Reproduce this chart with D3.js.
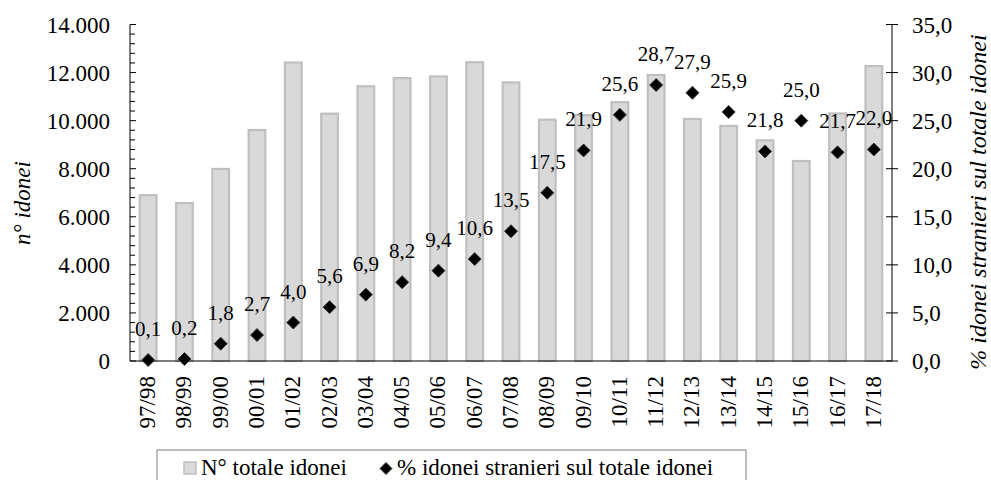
<!DOCTYPE html>
<html>
<head>
<meta charset="utf-8">
<script src="https://cdn.jsdelivr.net/npm/d3@7"></script>
</head>
<body style="margin:0; font-family: 'Liberation Serif', serif">
<svg id="s" width="991" height="480" font-family="Liberation Serif"></svg>
<script>
// Academic years
const categories = ["97/98","98/99","99/00","00/01","01/02","02/03","03/04","04/05","05/06","06/07",
  "07/08","08/09","09/10","10/11","11/12","12/13","13/14","14/15","15/16","16/17","17/18"];
// Total number of qualified candidates
const totaleIdonei = [6900, 6570, 7990, 9610, 12420, 10290, 11430, 11770, 11840, 12430,
  11590, 10040, 10230, 10770, 11900, 10070, 9780, 9180, 8320, 10300, 12270];
// Share of foreign candidates among the qualified (%)
const percStranieri = [0.1, 0.2, 1.8, 2.7, 4.0, 5.6, 6.9, 8.2, 9.4, 10.6,
  13.5, 17.5, 21.9, 25.6, 28.7, 27.9, 25.9, 21.8, 25.0, 21.7, 22.0];
const leftTicks = [0, 2000, 4000, 6000, 8000, 10000, 12000, 14000];
const rightTicks = [0, 5, 10, 15, 20, 25, 30, 35];

const it = d3.formatLocale({decimal: ",", thousands: ".", grouping: [3], currency: ["€", ""]});
const fmtInt = it.format(",d");
const fmtPct = it.format(".1f");

const svg = d3.select("#s");
const plot = {left: 130, right: 892, top: 24.5, bottom: 361};

const x = d3.scaleBand().domain(categories).range([plot.left, plot.right]).padding(0);
const yL = d3.scaleLinear().domain([0, 14000]).range([plot.bottom, plot.top]);
const yR = d3.scaleLinear().domain([0, 35]).range([plot.bottom, plot.top]);
const barW = x.bandwidth() * 0.46;
const cx = c => x(c) + x.bandwidth() / 2;

// Adds a serif text element
function label(g) {
  return g.append("text").style("font-family", "Liberation Serif");
}

// Bars
svg.append("g").selectAll("rect").data(totaleIdonei).join("rect")
  .attr("x", (d, i) => cx(categories[i]) - barW / 2)
  .attr("y", d => yL(d))
  .attr("width", barW)
  .attr("height", d => yL(0) - yL(d))
  .attr("fill", "#d9d9d9")
  .attr("stroke", "#bfbfbf")
  .attr("stroke-width", 2.2);

// Left axis with minor ticks pointing into the plot
const gL = svg.append("g").attr("transform", `translate(${plot.left},0)`);
gL.append("line").attr("y1", yL(14000)).attr("y2", yL(0)).attr("stroke", "#000");
gL.selectAll("line.minor").data(d3.range(0, 14001, 400)).join("line")
  .attr("class", "minor")
  .attr("x1", 0).attr("x2", d => d % 2000 === 0 ? 6 : 5)
  .attr("y1", d => yL(d)).attr("y2", d => yL(d))
  .attr("stroke", "#000");
leftTicks.forEach(d => {
  label(gL).attr("x", -20).attr("y", yL(d)).attr("dy", "0.35em")
    .attr("text-anchor", "end").attr("font-size", 23)
    .text(fmtInt(d));
});

// Right axis with crossing ticks
const gR = svg.append("g").attr("transform", `translate(${plot.right},0)`);
gR.append("line").attr("y1", yR(35)).attr("y2", yR(0)).attr("stroke", "#000");
gR.selectAll("line.tick").data(rightTicks).join("line")
  .attr("class", "tick")
  .attr("x1", -6).attr("x2", 6)
  .attr("y1", d => yR(d)).attr("y2", d => yR(d))
  .attr("stroke", "#000");
rightTicks.forEach(d => {
  label(gR).attr("x", 20).attr("y", yR(d)).attr("dy", "0.35em")
    .attr("text-anchor", "start").attr("font-size", 23)
    .text(fmtPct(d));
});

// Category axis
svg.append("line")
  .attr("x1", plot.left).attr("x2", plot.right)
  .attr("y1", plot.bottom).attr("y2", plot.bottom)
  .attr("stroke", "#000");
const gX = svg.append("g");
categories.forEach(c => {
  label(gX).attr("transform", `translate(${cx(c) - 1},${plot.bottom + 15}) rotate(-90)`)
    .attr("dy", "0.35em")
    .attr("text-anchor", "end").attr("font-size", 23)
    .text(c);
});

// Diamond markers for the percentage series
const diamond = r => `M0,${-r}L${r},0L0,${r}L${-r},0Z`;
svg.append("g").selectAll("path").data(percStranieri).join("path")
  .attr("transform", (d, i) => `translate(${cx(categories[i])},${yR(d)})`)
  .attr("d", diamond(6.5))
  .attr("fill", "#000")
  .attr("stroke", "#3a3a3a")
  .attr("stroke-width", 1);

// Value labels above the markers
const gV = svg.append("g");
percStranieri.forEach((d, i) => {
  label(gV).attr("x", cx(categories[i])).attr("y", yR(d) - 24)
    .attr("text-anchor", "middle").attr("font-size", 21)
    .text(fmtPct(d));
});

// Axis titles
label(svg).attr("transform", "translate(22,203) rotate(-90)")
  .attr("dy", "0.35em")
  .attr("text-anchor", "middle").attr("font-size", 23).attr("font-style", "italic")
  .text("n° idonei");
label(svg).attr("transform", "translate(978,202) rotate(-90)")
  .attr("dy", "0.35em")
  .attr("text-anchor", "middle").attr("font-size", 24).attr("font-style", "italic")
  .text("% idonei stranieri sul totale idonei");

// Legend
const lg = svg.append("g");
lg.append("rect").attr("x", 157).attr("y", 450).attr("width", 589).attr("height", 40)
  .attr("fill", "#fff").attr("stroke", "#7f7f7f").attr("stroke-width", 1);
lg.append("rect").attr("x", 184).attr("y", 462).attr("width", 12).attr("height", 12)
  .attr("fill", "#d9d9d9").attr("stroke", "#bfbfbf").attr("stroke-width", 1.5);
label(lg).attr("x", 201).attr("y", 475).attr("font-size", 23).text("N° totale idonei");
lg.append("path").attr("transform", "translate(386,468.5)").attr("d", diamond(6))
  .attr("fill", "#000").attr("stroke", "#3a3a3a").attr("stroke-width", 1);
label(lg).attr("x", 397).attr("y", 475).attr("font-size", 23).text("% idonei stranieri sul totale idonei");
</script>
</body>
</html>
